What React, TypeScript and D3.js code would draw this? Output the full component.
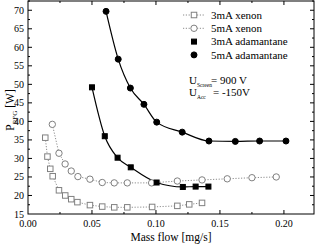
import React, { useEffect, useRef } from 'react';
import * as d3 from 'd3';

// 3mA xenon (open squares)
const xe3Flow = [0.0135, 0.0152, 0.0174, 0.0193, 0.0242, 0.0291, 0.0338, 0.0386, 0.0484, 0.058, 0.0674, 0.0776, 0.097, 0.1167, 0.126, 0.136];
const xe3Power = [35.6, 30.5, 27.2, 25.2, 21.4, 20.0, 19.0, 18.2, 17.4, 17.0, 16.8, 16.8, 16.9, 17.2, 17.6, 18.0];
// 5mA xenon (open circles)
const xe5Flow = [0.019, 0.0242, 0.029, 0.0338, 0.039, 0.0484, 0.058, 0.0674, 0.0776, 0.0966, 0.1167, 0.136, 0.1557, 0.175, 0.194];
const xe5Power = [39.2, 31.4, 28.5, 26.6, 25.1, 24.4, 23.5, 23.4, 23.4, 23.4, 23.9, 24.2, 24.5, 24.8, 25.0];
// 3mA adamantane (filled squares)
const ad3Flow = [0.050, 0.060, 0.070, 0.0803, 0.1005, 0.121, 0.131, 0.141];
const ad3Power = [49.2, 36.0, 30.2, 27.6, 23.5, 22.3, 22.4, 22.4];
// 5mA adamantane (filled circles)
const ad5Flow = [0.061, 0.0705, 0.080, 0.0906, 0.1006, 0.1205, 0.1414, 0.162, 0.181, 0.2016];
const ad5Power = [69.7, 56.8, 49.0, 44.6, 39.8, 37.1, 34.7, 34.6, 34.7, 34.7];

const xTicks = [0, 0.05, 0.1, 0.15, 0.2];
const yTicks = [15, 20, 25, 30, 35, 40, 45, 50, 55, 60, 65, 70];
const legendLabels = ['3mA xenon', '5mA xenon', '3mA adamantane', '5mA adamantane'];

const W = 315, H = 245;
const FONT = "'Liberation Serif', 'Times New Roman', 'DejaVu Serif', serif";
const GREY = '#808080';

function zip(xs: number[], ys: number[]): [number, number][] {
    return xs.map((x, i) => [x, ys[i]]);
}

export default function App() {
    const ref = useRef<SVGSVGElement>(null);

    useEffect(() => {
        const svg = d3.select(ref.current);
        svg.selectAll('*').remove();

        const x = d3.scaleLinear().domain([0, 0.2235]).range([28, 314]);
        const y = d3.scaleLinear().domain([15, 72.5]).range([214, 1]);
        const [x0, x1] = x.range();
        const [y0, y1] = y.range();

        // frame
        svg.append('rect')
            .attr('x', x0).attr('y', y1)
            .attr('width', x1 - x0).attr('height', y0 - y1)
            .attr('fill', 'none').attr('stroke', '#000').attr('stroke-width', 1);

        const xMinor = d3.range(0.025, 0.2235, 0.05);
        const yMinor = d3.range(17.5, 72.6, 5);

        const ticks = svg.append('g').attr('stroke', '#000').attr('stroke-width', 1);
        const addX = (vals: number[], len: number) => {
            vals.forEach(v => {
                ticks.append('line').attr('x1', x(v)).attr('x2', x(v)).attr('y1', y0).attr('y2', y0 - len);
                ticks.append('line').attr('x1', x(v)).attr('x2', x(v)).attr('y1', y1).attr('y2', y1 + len);
            });
        };
        const addY = (vals: number[], len: number) => {
            vals.forEach(v => {
                ticks.append('line').attr('y1', y(v)).attr('y2', y(v)).attr('x1', x0).attr('x2', x0 + len);
                ticks.append('line').attr('y1', y(v)).attr('y2', y(v)).attr('x1', x1).attr('x2', x1 - len);
            });
        };
        addX(xTicks.filter(v => v > 0), 4);
        addX(xMinor, 2);
        addY(yTicks.filter(v => v > 15), 4);
        addY(yMinor, 2);

        svg.append('g').selectAll('text').data(xTicks).enter().append('text')
            .attr('x', d => x(d)).attr('y', 227)
            .attr('text-anchor', 'middle')
            .style('font-family', FONT).style('font-size', '10px')
            .text(d => d3.format('.2f')(d));

        svg.append('g').selectAll('text').data(yTicks).enter().append('text')
            .attr('x', 24).attr('y', d => y(d) + 3.5)
            .attr('text-anchor', 'end')
            .style('font-family', FONT).style('font-size', '10px')
            .text(d => d);

        // axis titles
        svg.append('text')
            .attr('x', 171).attr('y', 241)
            .attr('text-anchor', 'middle')
            .style('font-family', FONT).style('font-size', '11.5px')
            .text('Mass flow [mg/s]');

        const yl = svg.append('text')
            .attr('transform', 'translate(14,110) rotate(-90)')
            .attr('text-anchor', 'middle')
            .style('font-family', FONT).style('font-size', '11.5px');
        yl.append('tspan').text('P');
        yl.append('tspan').style('font-size', '7px').attr('dy', 2.5).text('RFG');
        yl.append('tspan').attr('dy', -2.5).text(' [W]');

        const line = d3.line<[number, number]>().x(d => x(d[0])).y(d => y(d[1]));

        // xenon dotted lines
        svg.append('path').datum(zip(xe3Flow, xe3Power))
            .attr('d', line.curve(d3.curveLinear))
            .attr('fill', 'none').attr('stroke', GREY).attr('stroke-width', 0.9).attr('stroke-dasharray', '1.2,1.6');
        svg.append('path').datum(zip(xe5Flow, xe5Power))
            .attr('d', line.curve(d3.curveLinear))
            .attr('fill', 'none').attr('stroke', GREY).attr('stroke-width', 0.9).attr('stroke-dasharray', '1.2,1.6');

        // adamantane fits
        svg.append('path').datum(zip(ad3Flow, ad3Power))
            .attr('d', line.curve(d3.curveMonotoneX))
            .attr('fill', 'none').attr('stroke', '#000').attr('stroke-width', 1.2);
        svg.append('path').datum(zip(ad5Flow, ad5Power))
            .attr('d', line.curve(d3.curveMonotoneX))
            .attr('fill', 'none').attr('stroke', '#000').attr('stroke-width', 1.2);

        const square = (g: any, cx: number, cy: number, s: number, filled: boolean) => {
            g.append('rect')
                .attr('x', cx - s / 2).attr('y', cy - s / 2).attr('width', s).attr('height', s)
                .attr('fill', filled ? '#000' : '#fff')
                .attr('stroke', filled ? '#000' : GREY).attr('stroke-width', 1);
        };
        const circle = (g: any, cx: number, cy: number, r: number, filled: boolean) => {
            g.append('circle')
                .attr('cx', cx).attr('cy', cy).attr('r', r)
                .attr('fill', filled ? '#000' : '#fff')
                .attr('stroke', filled ? '#000' : GREY).attr('stroke-width', 1);
        };

        const marks = svg.append('g');
        xe3Flow.forEach((f, i) => square(marks, x(f), y(xe3Power[i]), 5.5, false));
        xe5Flow.forEach((f, i) => circle(marks, x(f), y(xe5Power[i]), 3.2, false));
        ad3Flow.forEach((f, i) => square(marks, x(f), y(ad3Power[i]), 5, true));
        ad5Flow.forEach((f, i) => circle(marks, x(f), y(ad5Power[i]), 3, true));

        // legend
        const lg = svg.append('g');
        legendLabels.forEach((label, i) => {
            const ly = 15 + i * 13.3;
            if (i < 2) {
                lg.append('line').attr('x1', 183).attr('x2', 205).attr('y1', ly).attr('y2', ly)
                    .attr('stroke', GREY).attr('stroke-width', 0.9).attr('stroke-dasharray', '1.2,1.6');
            }
            if (i === 0) square(lg, 194, ly, 5.5, false);
            if (i === 1) circle(lg, 194, ly, 3.2, false);
            if (i === 2) square(lg, 194, ly, 5, true);
            if (i === 3) circle(lg, 194, ly, 3, true);
            lg.append('text').attr('x', 211).attr('y', ly + 3.8)
                .style('font-family', FONT).style('font-size', '11px')
                .text(label);
        });

        const ann: [string, string, number][] = [['Screen', '= 900 V', 84], ['Acc', '= -150V', 96]];
        ann.forEach(([sub, rest, ay]) => {
            const t = svg.append('text').attr('x', 189).attr('y', ay)
                .style('font-family', FONT).style('font-size', '11px');
            t.append('tspan').text('U');
            t.append('tspan').style('font-size', '5.5px').attr('dy', 2.5).text(sub);
            svg.append('text').attr('x', sub === 'Acc' ? 213 : 211).attr('y', ay)
                .style('font-family', FONT).style('font-size', '11px')
                .text(rest);
        });
    }, []);

    return (
        <div style={{ position: 'fixed', left: 0, top: 0 }}>
            <svg ref={ref} width={W} height={H} style={{ display: 'block', background: '#fff' }} />
        </div>
    );
}
